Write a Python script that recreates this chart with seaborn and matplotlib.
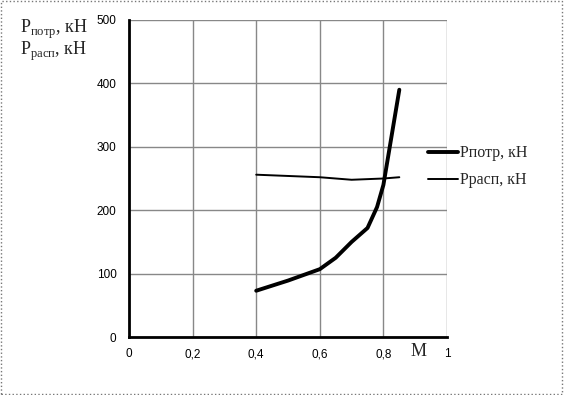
import pandas as pd
import matplotlib
matplotlib.use("Agg")
import matplotlib.pyplot as plt
import seaborn as sns
from matplotlib.patches import Rectangle
from matplotlib.lines import Line2D

# Data
m_potr = [0.4, 0.5, 0.6, 0.65, 0.7, 0.75, 0.78, 0.8, 0.85]
p_potr = [73, 89, 107, 125, 150, 172, 205, 240, 390]
m_rasp = [0.4, 0.5, 0.6, 0.7, 0.8, 0.85]
p_rasp = [256, 254, 252, 248, 250, 252]

df = pd.concat([
    pd.DataFrame({"M": m_potr, "P": p_potr, "series": "Рпотр, кН"}),
    pd.DataFrame({"M": m_rasp, "P": p_rasp, "series": "Ррасп, кН"}),
])

sns.set_style("white")
plt.rcParams["font.family"] = ["Liberation Sans", "DejaVu Sans"]
plt.rcParams["mathtext.fontset"] = "custom"
plt.rcParams["mathtext.rm"] = "Liberation Serif"

fig = plt.figure(figsize=(5.64, 3.95), dpi=100)
ax = fig.add_axes([0.2287, 0.1468, 0.7926 - 0.2287, 0.9494 - 0.1468])

sns.lineplot(data=df, x="M", y="P", hue="series", size="series",
             sizes={"Рпотр, кН": 2.8, "Ррасп, кН": 1.4},
             palette={"Рпотр, кН": "black", "Ррасп, кН": "black"},
             sort=False, ax=ax, legend=False)

ax.set_xlim(0, 1)
ax.set_ylim(0, 500)
ax.set_xticks([0, 0.2, 0.4, 0.6, 0.8, 1])
ax.set_xticklabels(["0", "0,2", "0,4", "0,6", "0,8", "1"])
ax.set_yticks([0, 100, 200, 300, 400, 500])
ax.grid(True, color="#888888", linewidth=1)
ax.set_xlabel("")
ax.set_ylabel("")
for s in ["top", "right"]:
    ax.spines[s].set_visible(False)
for s in ["left", "bottom"]:
    ax.spines[s].set_linewidth(2)
    ax.spines[s].set_color("black")
ax.tick_params(axis="both", which="both", direction="inout", length=6, width=1.2,
               labelsize=8.5, colors="black", pad=6)
ax.tick_params(axis="x", pad=5)

# Axis titles
fig.text(0.035, 0.925, r"P$_{\mathrm{потр}}$, кН", fontsize=13, family="Liberation Serif",
         va="center")
fig.text(0.035, 0.870, r"P$_{\mathrm{расп}}$, кН", fontsize=13, family="Liberation Serif",
         va="center")
fig.text(0.742, 0.11, "M", fontsize=13, family="Liberation Serif", va="center", ha="center")

# Legend drawn at the right
handles = [Line2D([], [], color="black", lw=2.8), Line2D([], [], color="black", lw=1.4)]
fig.legend(handles, ["Рпотр, кН", "Ррасп, кН"], loc="center left",
           bbox_to_anchor=(0.733, 0.578), frameon=False, handlelength=1.9,
           handletextpad=0.1, labelspacing=0.7,
           prop={"family": "Liberation Serif", "size": 11.5})

# Dotted outer border
fig.patches.append(Rectangle((0.002, 0.003), 0.995, 0.994, transform=fig.transFigure,
                             fill=False, edgecolor="#777777", linestyle=":", linewidth=1))

fig.savefig("out.png", dpi=100)
